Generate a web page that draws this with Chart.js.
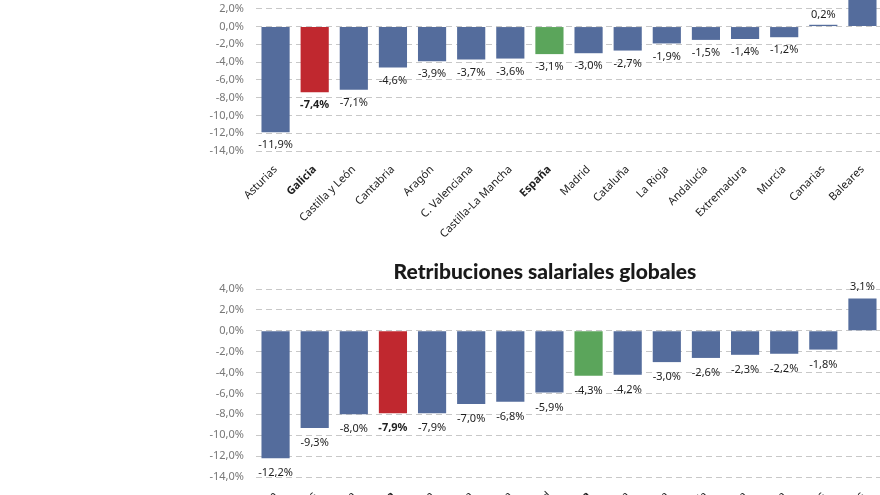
<!DOCTYPE html>
<html lang="es">
  <head>
    <meta charset="utf-8" />
    <title>Salarios por comunidad</title>
    <script src="https://cdn.jsdelivr.net/npm/chart.js/dist/chart.umd.min.js"></script>
    <style>
      * {
        margin: 0;
        padding: 0;
      }
      body {
        width: 880px;
        height: 495px;
        overflow: hidden;
        position: relative;
        background: #fff;
        font-family: "Noto Sans", sans-serif;
      }
      canvas {
        position: absolute;
        left: 0;
      }
      #chartTop {
        top: -40px;
      }
      #chartBottom {
        top: 251px;
      }
      .title {
        position: absolute;
        left: 345px;
        width: 400px;
        top: 258px;
        text-align: center;
        font-family: "Lato", sans-serif;
        font-weight: 900;
        font-size: 21px;
        color: #1a1a1a;
      }
    </style>
  </head>
  <body>
    <canvas id="chartTop" width="900" height="300"></canvas>
    <div class="title">Retribuciones salariales globales</div>
    <canvas id="chartBottom" width="900" height="340"></canvas>

    <script>
      // top chart (title cut off in the picture)
      const regionsTop = ["Asturias", "Galicia", "Castilla y León", "Cantabria", "Aragón", "C. Valenciana",
        "Castilla-La Mancha", "España", "Madrid", "Cataluña", "La Rioja", "Andalucía", "Extremadura",
        "Murcia", "Canarias", "Baleares"];
      const valuesTop = [-11.9, -7.4, -7.1, -4.6, -3.9, -3.7, -3.6, -3.1, -3.0, -2.7, -1.9, -1.5, -1.4, -1.2, 0.2, 4.6];

      // bottom chart: retribuciones salariales globales (labels cut off in the picture)
      const regionsBottom = ["Castilla y León", "Asturias", "Cantabria", "Galicia", "Aragón", "C. Valenciana",
        "Castilla-La Mancha", "Madrid", "España", "Cataluña", "La Rioja", "Andalucía", "Extremadura",
        "Murcia", "Canarias", "Baleares"];
      const valuesBottom = [-12.2, -9.3, -8.0, -7.9, -7.9, -7.0, -6.8, -5.9, -4.3, -4.2, -3.0, -2.6, -2.3, -2.2, -1.8, 3.1];

      const BLUE = "#546c9c";
      const RED = "#c0282f";
      const GREEN = "#5ba55b";

      const pct = (v) => v.toFixed(1).replace(".", ",") + "%";
      const isBold = (name) => name === "Galicia" || name === "España";

      function barColor(name) {
        if (name === "Galicia") return RED;
        if (name === "España") return GREEN;
        return BLUE;
      }

      // value labels under / over each bar
      const valueLabels = {
        id: "valueLabels",
        afterDatasetsDraw(chart, args, opts) {
          const { ctx } = chart;
          const values = chart.data.datasets[0].data;
          const labels = chart.data.labels;
          ctx.save();
          ctx.fillStyle = "#1e1e1e";
          ctx.textAlign = "center";
          ctx.textBaseline = "middle";
          chart.getDatasetMeta(0).data.forEach((bar, i) => {
            const v = values[i];
            const weight = labels[i] === "Galicia" ? "bold " : "";
            ctx.font = weight + opts.size + "px 'Noto Sans'";
            const y = v < 0 ? bar.y + opts.offset : bar.y - opts.offset + 3;
            ctx.fillText(pct(v), bar.x, y);
          });
          ctx.restore();
        },
      };

      function makeChart(id, labels, values, yMin, yMax, padTop, xHeight, labelOpts) {
        return new Chart(document.getElementById(id), {
          type: "bar",
          data: {
            labels: labels,
            datasets: [
              {
                data: values,
                backgroundColor: labels.map(barColor),
                barPercentage: 0.72,
                categoryPercentage: 1,
              },
            ],
          },
          options: {
            responsive: false,
            animation: false,
            layout: { padding: { top: padTop, right: 18, left: 0, bottom: 0 } },
            plugins: {
              legend: { display: false },
              tooltip: { enabled: false },
              valueLabels: labelOpts,
            },
            scales: {
              x: {
                grid: { display: false },
                border: { display: false },
                afterFit: (s) => {
                  s.height = xHeight;
                },
                ticks: {
                  minRotation: 45,
                  maxRotation: 45,
                  autoSkip: false,
                  padding: 4,
                  color: "#222",
                  font: (c) => ({
                    family: "'Noto Sans'",
                    size: 11,
                    weight: isBold(labels[c.index]) ? "bold" : "normal",
                  }),
                },
              },
              y: {
                min: yMin,
                max: yMax,
                afterFit: (s) => {
                  s.width = 256;
                },
                grid: { color: "#c8c8c8", drawTicks: false },
                border: { display: false, dash: [6, 4] },
                ticks: {
                  stepSize: 2,
                  padding: 12,
                  color: "#777",
                  font: { family: "'Noto Sans'", size: 11 },
                  callback: (v) => pct(v),
                },
              },
            },
          },
          plugins: [valueLabels],
        });
      }

      makeChart("chartTop", regionsTop, valuesTop, -14, 4, 31, 109, { size: 11, offset: 13 });
      makeChart("chartBottom", regionsBottom, valuesBottom, -14, 4, 38, 114, { size: 11, offset: 15 });
    </script>
  </body>
</html>
